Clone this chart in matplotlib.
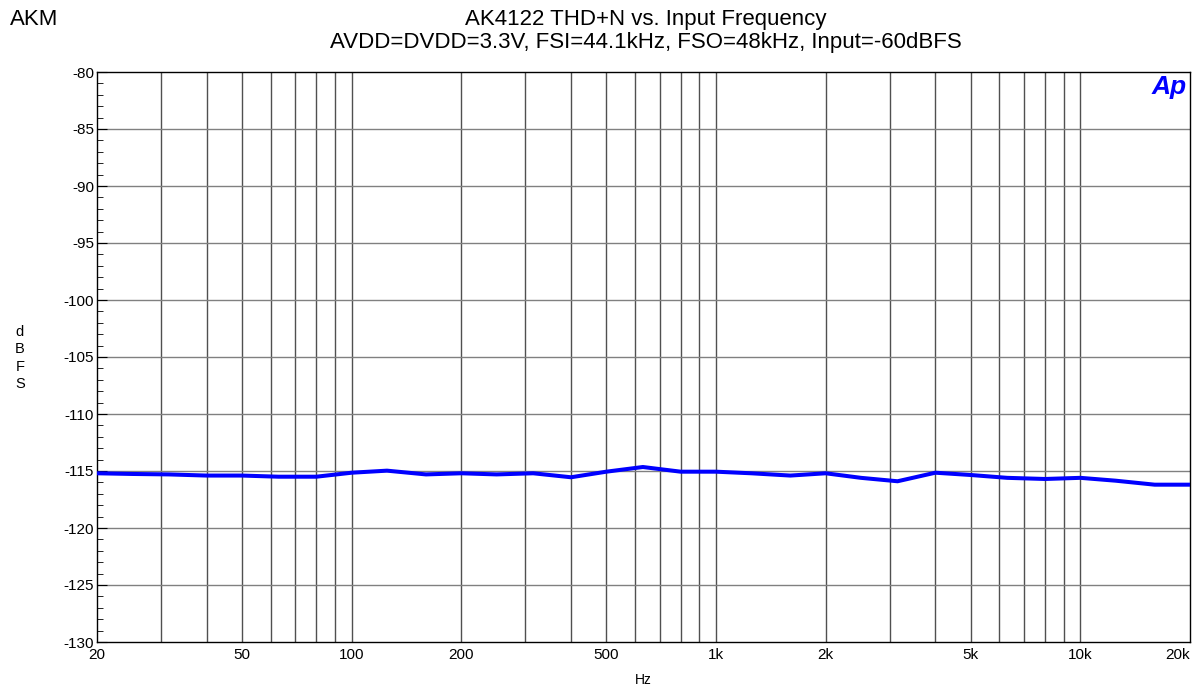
import matplotlib
matplotlib.use("Agg")
from matplotlib import pyplot as plt
from matplotlib.ticker import FixedLocator, NullFormatter, MultipleLocator

plt.rcParams['font.family'] = ['Liberation Sans', 'DejaVu Sans']
plt.rcParams['axes.unicode_minus'] = False

# 1/3 octave measurement points
freq = [20, 25, 31.5, 40, 50, 63, 80, 100, 125, 160, 200, 250, 315, 400, 500, 630,
        800, 1000, 1250, 1600, 2000, 2500, 3150, 4000, 5000, 6300, 8000, 10000,
        12500, 16000, 20000]
thdn = [-115.2, -115.26, -115.3, -115.4, -115.4, -115.5, -115.5, -115.15, -114.97,
        -115.3, -115.2, -115.3, -115.2, -115.55, -115.06, -114.65, -115.06, -115.06,
        -115.2, -115.4, -115.2, -115.6, -115.9, -115.15, -115.35, -115.6, -115.7,
        -115.6, -115.85, -116.2, -116.2]

xticks = [20, 50, 100, 200, 500, 1000, 2000, 5000, 10000, 20000]
xlabels = ['20', '50', '100', '200', '500', '1k', '2k', '5k', '10k', '20k']
xgrid = [d * m for d in (10, 100, 1000, 10000) for m in range(1, 10) if 20 < d * m < 20000]

W, H = 1195, 694
fig = plt.figure(figsize=(W / 100, H / 100), dpi=100)
ax = fig.add_axes([97/W, 1 - 642/H, (1190 - 97)/W, (642 - 72)/H])

for g in xgrid:
    ax.axvline(g, color='#505050', lw=1.0, zorder=1)
for y in range(-125, -80, 5):
    ax.axhline(y, color='#808080', lw=1.0, zorder=1)

ax.plot(freq, thdn, color='#0000ff', lw=2.9, zorder=3)

ax.set_xscale('log')
ax.set_xlim(20, 20000)
ax.set_ylim(-130, -80)
ax.xaxis.set_major_locator(FixedLocator(xticks))
ax.set_xticklabels(xlabels)
ax.xaxis.set_minor_formatter(NullFormatter())
ax.tick_params(axis='x', which='both', length=0, labelsize=11, pad=4)
lbls = ax.get_xticklabels()
lbls[-1].set_horizontalalignment('right')
lbls[-1].set_x(lbls[-1].get_position()[0])
ax.yaxis.set_major_locator(MultipleLocator(5))
ax.yaxis.set_minor_locator(MultipleLocator(1))
ax.tick_params(axis='y', which='major', direction='in', length=7, labelsize=11, pad=2)
ax.tick_params(axis='y', which='minor', direction='in', length=4)
for s in ax.spines.values():
    s.set_linewidth(1.0)

ax.set_xlabel('Hz', fontsize=10, labelpad=8)
fig.text(20/W, 1 - 358/H, 'd\nB\nF\nS', fontsize=10.5, ha='center', va='center',
         linespacing=1.3)

fig.text(10/W, 1 - 25/H, 'AKM', fontsize=16, ha='left', va='baseline')
fig.text(646/W, 1 - 25/H, 'AK4122 THD+N vs. Input Frequency', fontsize=16,
         ha='center', va='baseline')
fig.text(646/W, 1 - 48/H,
         'AVDD=DVDD=3.3V, FSI=44.1kHz, FSO=48kHz, Input=-60dBFS', fontsize=16,
         ha='center', va='baseline')

fig.text(1187/W, 1 - 75/H, 'Ap', fontsize=19, color='#0000ff',
         fontweight='bold', fontstyle='italic', ha='right', va='top', zorder=4)

fig.savefig('out.png', dpi=100)
